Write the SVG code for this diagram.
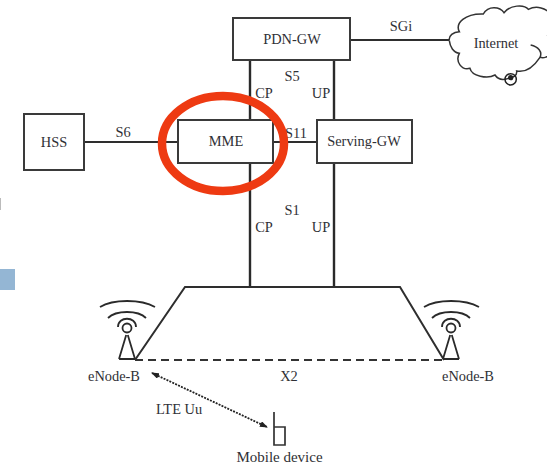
<svg xmlns="http://www.w3.org/2000/svg" width="547" height="465" viewBox="0 0 547 465">
<defs>
<marker id="arr" viewBox="0 0 8 6" refX="7" refY="3" markerWidth="8" markerHeight="6" orient="auto-start-reverse" markerUnits="userSpaceOnUse"><path d="M0 0L8 3L0 6Z" fill="#222"/></marker>
<g id="tower" fill="none" stroke="#2a2a2a">
<path d="M-8 0L-0.8-24M8 0L0.8-24M-8 0H8" stroke-width="1.8"/>
<circle cx="0" cy="-31" r="4.5" stroke-width="1.8"/>
<path d="M-9-32C-9-43 9-43 9-32" stroke-width="1.8"/>
<path d="M-19-41C-11-49 11-49 19-41" stroke-width="1.8"/>
<path d="M-27-52C-14-60 14-60 28-52" stroke-width="1.8"/>
</g>
</defs>
<style>
text{font-family:"Liberation Serif","Times New Roman",serif;fill:#2f3035;font-size:14.4px;text-anchor:middle}
.box{fill:#fff;stroke:#3a3a3a;stroke-width:2}
.ln{fill:none;stroke:#2e2e2e;stroke-width:2}
.thick{fill:none;stroke:#2a2a2a;stroke-width:2.4}
</style>
<rect width="547" height="465" fill="#fff"/>
<rect x="0" y="269" width="15" height="21" fill="#94b6d4"/>
<rect x="-2" y="198" width="3" height="12" fill="#bbb"/>
<g id="connectors">
<path class="thick" d="M250 60V286M334 60V286"/>
<path class="ln" d="M84 142H178M273 142H317M350 40H449"/>
<path class="ln" d="M135 360L185 287H400L444 360"/>
<path d="M135 360H444" fill="none" stroke="#333" stroke-width="2" stroke-dasharray="8 5"/>
<path d="M152 373L267 427" fill="none" stroke="#222" stroke-width="1.8" stroke-dasharray="2 1.2" marker-start="url(#arr)" marker-end="url(#arr)"/>
</g>
<g id="pdn-gw"><rect class="box" x="233" y="18" width="117" height="42"/><text x="292" y="44">PDN-GW</text></g>
<g id="hss"><rect class="box" x="24" y="114" width="60" height="56"/><text x="54" y="147">HSS</text></g>
<g id="mme"><rect class="box" x="178" y="120" width="95" height="43"/><text x="226" y="146">MME</text></g>
<g id="serving-gw"><rect class="box" x="317" y="120" width="95" height="43"/><text x="364" y="146">Serving-GW</text></g>
<g id="internet">
<g transform="translate(400 0) scale(.3333)">
<path d="M148 122C145 108 160 95 178 95C165 70 195 40 250 42C265 15 300 20 312 38C330 15 372 12 385 28C410 15 440 25 450 42" fill="none" stroke="#333" stroke-width="4.5"/>
<path d="M392 135C415 140 428 155 420 172C432 176 445 170 450 162" fill="none" stroke="#333" stroke-width="4.5"/>
<path d="M148 122C150 140 160 158 178 160C165 185 185 212 210 205C215 228 262 238 285 225C295 240 312 240 325 235C340 235 352 225 350 213C375 218 398 205 420 172" fill="none" stroke="#333" stroke-width="4.5"/>
<circle cx="332" cy="238" r="17" fill="none" stroke="#222" stroke-width="4.5"/><circle cx="332" cy="233" r="8" fill="#222"/>
<path d="M441 105L450 108" fill="none" stroke="#333" stroke-width="5"/>
</g>
<text x="496" y="48">Internet</text>
</g>
<g id="enodeb-left"><use href="#tower" x="127" y="359"/><text x="114" y="381">eNode-B</text></g>
<g id="enodeb-right"><use href="#tower" x="451" y="359"/><text x="468" y="381">eNode-B</text></g>
<g id="mobile"><path d="M274 412V445H285V427H274" fill="none" stroke="#333" stroke-width="1.7"/><text x="279.500" y="462" style="font-size:15px">Mobile device</text></g>
<g id="labels">
<text x="401" y="31">SGi</text><text x="292" y="81">S5</text><text x="264" y="98">CP</text><text x="321" y="98">UP</text>
<text x="123" y="137">S6</text><text x="296" y="138">S11</text><text x="292" y="215">S1</text><text x="264" y="232">CP</text><text x="321" y="232">UP</text>
<text x="289" y="381">X2</text><text x="179" y="414">LTE Uu</text>
</g>
<ellipse id="highlight" cx="223" cy="143.500" rx="61" ry="47.500" fill="none" stroke="#ee3a12" stroke-width="8.500"/>
</svg>
